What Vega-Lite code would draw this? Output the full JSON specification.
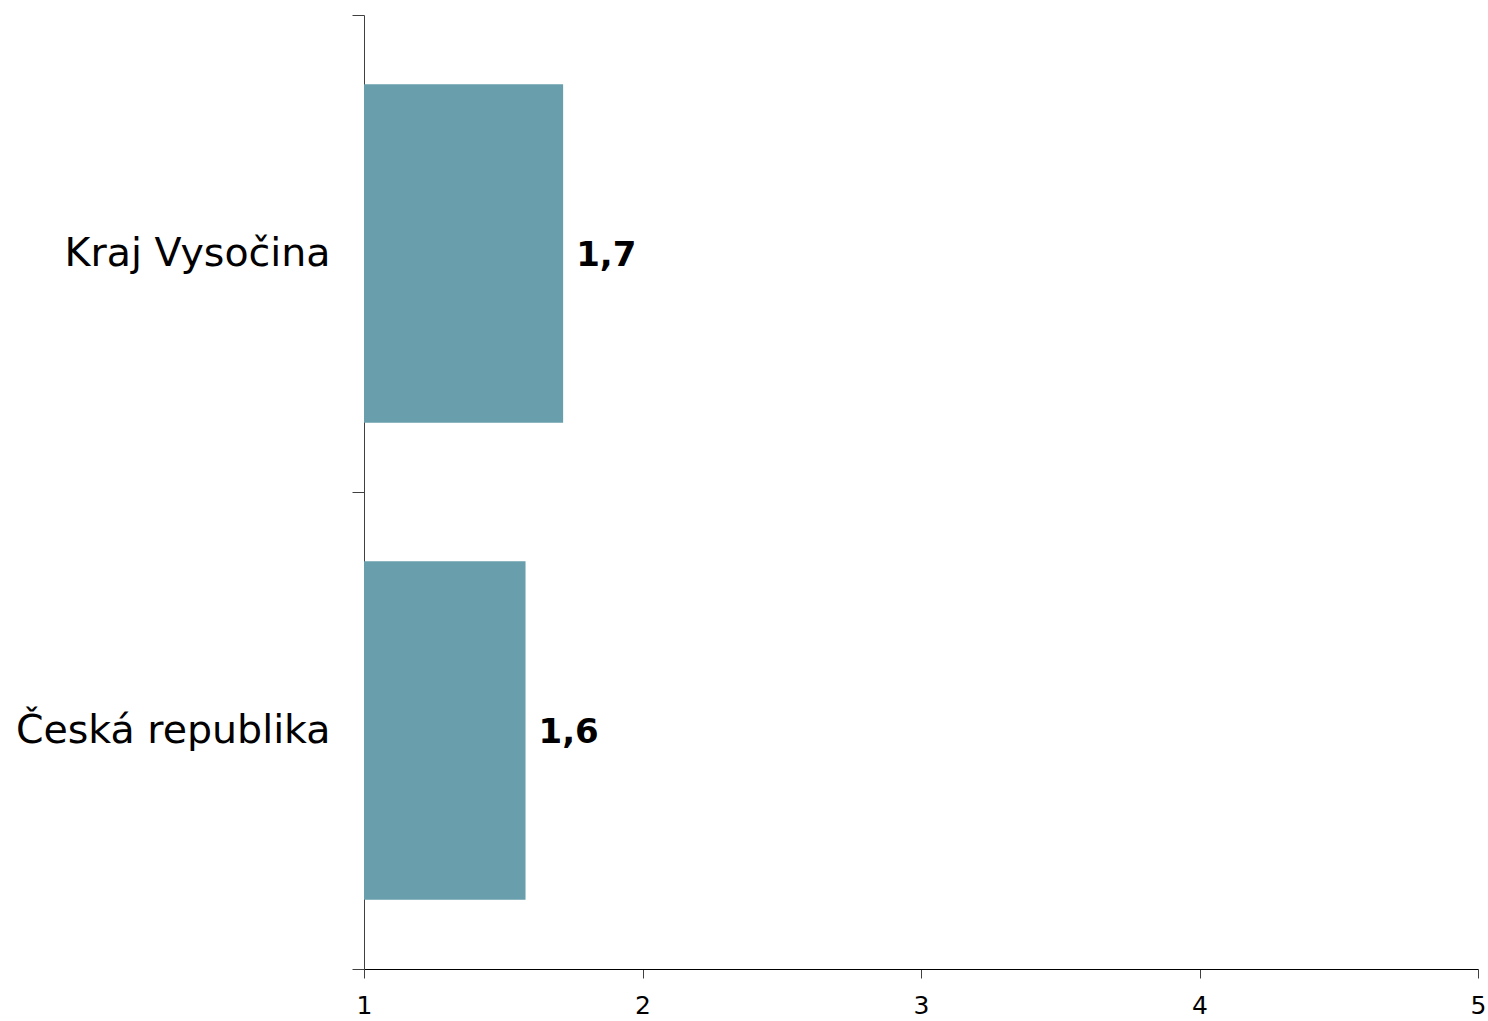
{
  "$schema": "https://vega.github.io/schema/vega-lite/v6.json",
  "width": 1114,
  "height": 954,
  "autosize": "none",
  "padding": {"left": 364, "top": 15, "right": 10, "bottom": 52},
  "background": "white",
  "config": {
    "view": {"stroke": null},
    "locale": {"number": {"decimal": ",", "thousands": " ", "grouping": [3], "currency": ["", " Kč"]}},
    "font": "DejaVu Sans"
  },
  "data": {
    "values": [
      {"region": "Kraj Vysočina", "value": 1.715},
      {"region": "Česká republika", "value": 1.58}
    ]
  },
  "encoding": {
    "y": {
      "field": "region",
      "type": "nominal",
      "sort": ["Kraj Vysočina", "Česká republika"],
      "scale": {"paddingInner": 0, "paddingOuter": 0},
      "axis": {
        "title": null,
        "tickBand": "extent",
        "tickSize": 12,
        "tickColor": "#404040",
        "domainColor": "#404040",
        "labelFontSize": 39.5,
        "labelColor": "#000000",
        "labelPadding": 22,
        "labelFont": "DejaVu Sans",
        "labelLimit": 400,
        "labelBaseline": "middle"
      }
    }
  },
  "layer": [
    {
      "mark": {"type": "bar", "color": "#699EAC", "height": {"band": 0.71}},
      "encoding": {
        "x": {
          "field": "value",
          "type": "quantitative",
          "scale": {"domain": [1, 5], "zero": false, "nice": false},
          "axis": {
            "title": null,
            "values": [1, 2, 3, 4, 5],
            "format": "d",
            "grid": false,
            "tickSize": 9,
            "tickColor": "#404040",
            "domainColor": "#000000",
            "labelFontSize": 25,
            "labelColor": "#000000",
            "labelPadding": 15,
            "labelFlush": false,
            "labelFont": "DejaVu Sans"
          }
        },
        "x2": {"datum": 1}
      }
    },
    {
      "mark": {"type": "text", "align": "left", "dx": 13, "dy": 2, "fontWeight": "bold", "fontSize": 34, "color": "#000000", "font": "DejaVu Sans"},
      "encoding": {
        "x": {"field": "value", "type": "quantitative"},
        "text": {"field": "value", "type": "quantitative", "format": ".1f"}
      }
    }
  ]
}
